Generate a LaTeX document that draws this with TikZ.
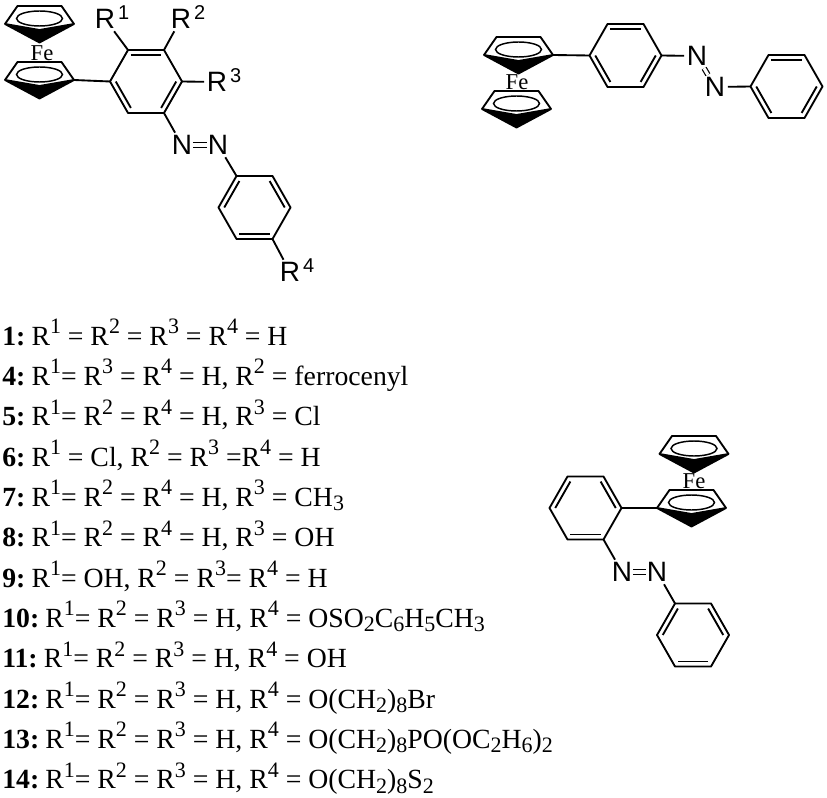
\documentclass[tikz,border=0pt]{standalone}
\usepackage{fontspec}
\setmainfont{Liberation Serif}
\newfontfamily\atomfont{Liberation Sans}
\usetikzlibrary{calc}
\newcommand{\rup}[1]{\raisebox{8.5pt}{\fontsize{16.5}{16.5}\selectfont #1}}
\newcommand{\rdn}[1]{\raisebox{-3.5pt}{\fontsize{16.5}{16.5}\selectfont #1}}
\newcommand{\rownum}[1]{\textbf{#1:}\hspace{4.6pt}}
\newcommand{\innerbond}[3]{\draw [bond] ($(#1-#2)!0.16!(#1-c)$) -- ($(#1-#3)!0.16!(#1-c)$);}
\tikzstyle{bond} = [draw, line width=1.4pt, line join=round]
\tikzstyle{atom} = [font=\atomfont\fontsize{21}{21}\selectfont, inner sep=0pt, outer sep=2pt]
\tikzstyle{atomsup} = [font=\atomfont\fontsize{15}{15}\selectfont, inner sep=0pt, anchor=base west, xshift=0pt, yshift=6.5pt]
\tikzstyle{iron} = [font=\fontsize{17}{17}\selectfont, inner sep=0pt]
\tikzstyle{row} = [font=\fontsize{20.8}{20.8}\selectfont, inner sep=0pt, anchor=base west]
\tikzstyle{azo} = [draw, line width=1.1pt, double, double distance=2.6pt, shorten <=-1.5pt, shorten >=-1.5pt]
\tikzset{
  cpring/.pic={
    \coordinate (-left) at (-34.5,0);
    \coordinate (-right) at (34.5,0);
    \draw [bond] (-left) -- (-22,-18) -- (22,-18) -- (-right);
    \draw [bond, fill=black] (-left) -- (0,6) -- (-right) -- (0,18.5) -- cycle;
    \draw [line width=1.1pt] (0,-5.5) ellipse [x radius=23, y radius=7.5];
  },
  hexring/.pic={
    \coordinate (-c) at (0,0);
    \coordinate (-1) at (-18,-31.5);
    \coordinate (-2) at (18,-31.5);
    \coordinate (-3) at (36,0);
    \coordinate (-4) at (18,31.5);
    \coordinate (-5) at (-18,31.5);
    \coordinate (-6) at (-36,0);
    \draw [bond] (-1) -- (-2) -- (-3) -- (-4) -- (-5) -- (-6) -- cycle;
  }
}
\begin{document}
\begin{tikzpicture}[x=0.75pt, y=-0.75pt]
  \useasboundingbox (0,0) rectangle (827,798);
  \pic (cpa) at (39.5,24) {cpring};
  \pic (cpb) at (39.5,80) {cpring};
  \node [iron] (fea) at (42,53) {Fe};
  \pic (ra) at (146,81.5) {hexring};
  \pic (rb) at (254.5,207.5) {hexring};
  \innerbond{ra}{1}{2}
  \innerbond{ra}{3}{4}
  \innerbond{ra}{5}{6}
  \innerbond{rb}{1}{6}
  \innerbond{rb}{2}{3}
  \innerbond{rb}{4}{5}
  \node [atom] (r1) at (105,19) {R};
  \node [atomsup] (r1sup) at (r1.base east) {1};
  \node [atom] (r2) at (181,19) {R};
  \node [atomsup] (r2sup) at (r2.base east) {2};
  \node [atom] (r3) at (217,82) {R};
  \node [atomsup] (r3sup) at (r3.base east) {3};
  \node [atom] (r4) at (290,272) {R};
  \node [atomsup] (r4sup) at (r4.base east) {4};
  \node [atom] (na) at (182,145) {N};
  \node [atom] (nb) at (218,145) {N};
  \path [bond] (cpb-right) -- (ra-6);
  \path [bond] (ra-1) -- (r1);
  \path [bond] (ra-2) -- (r2);
  \path [bond] (ra-3) -- (r3);
  \path [bond] (ra-4) -- (na);
  \path [azo] (na) -- (nb);
  \path [bond] (nb) -- (rb-1);
  \path [bond] (rb-4) -- (r4);

  \pic (cpc) at (518.5,55) {cpring};
  \pic (cpd) at (516.5,109) {cpring};
  \node [iron] (feb) at (517,82) {Fe};
  \pic (rc) at (625.5,55.5) {hexring};
  \pic (rd) at (786.5,86.5) {hexring};
  \innerbond{rc}{1}{2}
  \innerbond{rc}{3}{4}
  \innerbond{rc}{5}{6}
  \innerbond{rd}{1}{2}
  \innerbond{rd}{3}{4}
  \innerbond{rd}{5}{6}
  \node [atom] (nc) at (697,56) {N};
  \node [atom] (nd) at (715,87) {N};
  \path [bond] (cpc-right) -- (rc-6);
  \path [bond] (rc-3) -- (nc);
  \path [draw, line width=0.9pt, double, double distance=2.4pt] (nc) -- (nd);
  \path [bond] (nd) -- (rd-6);

  \pic (cpe) at (694,454) {cpring};
  \pic (cpf) at (691.5,508) {cpring};
  \node [iron] (fec) at (694,481) {Fe};
  \pic (re) at (585.5,508) {hexring};
  \pic (rf) at (693,635) {hexring};
  \innerbond{re}{2}{3}
  \innerbond{re}{1}{6}
  \innerbond{re}{4}{5}
  \innerbond{rf}{1}{6}
  \innerbond{rf}{2}{3}
  \innerbond{rf}{4}{5}
  \node [atom] (ne) at (622,572) {N};
  \node [atom] (nf) at (657,572) {N};
  \path [bond] (cpf-left) -- (re-3);
  \path [bond] (re-4) -- (ne);
  \path [azo] (ne) -- (nf);
  \path [bond] (nf) -- (rf-1);

  \node [row] (row1) at (2,345) {\rownum{1}R\rup{1} = R\rup{2} = R\rup{3} = R\rup{4} = H};
  \node [row] (row4) at (2,385.3) {\rownum{4}R\rup{1}= R\rup{3} = R\rup{4} = H, R\rup{2} = ferrocenyl};
  \node [row] (row5) at (2,425.6) {\rownum{5}R\rup{1}= R\rup{2} = R\rup{4} = H, R\rup{3} = Cl};
  \node [row] (row6) at (2,466) {\rownum{6}R\rup{1} = Cl, R\rup{2} = R\rup{3} =R\rup{4} = H};
  \node [row] (row7) at (2,506.3) {\rownum{7}R\rup{1}= R\rup{2} = R\rup{4} = H, R\rup{3} = CH\rdn{3}};
  \node [row] (row8) at (2,546.6) {\rownum{8}R\rup{1}= R\rup{2} = R\rup{4} = H, R\rup{3} = OH};
  \node [row] (row9) at (2,587) {\rownum{9}R\rup{1}= OH, R\rup{2} = R\rup{3}= R\rup{4} = H};
  \node [row] (row10) at (2,627.3) {\rownum{10}R\rup{1}= R\rup{2} = R\rup{3} = H, R\rup{4} = OSO\rdn{2}C\rdn{6}H\rdn{5}CH\rdn{3}};
  \node [row] (row11) at (2,667.6) {\rownum{11}R\rup{1}= R\rup{2} = R\rup{3} = H, R\rup{4} = OH};
  \node [row] (row12) at (2,708) {\rownum{12}R\rup{1}= R\rup{2} = R\rup{3} = H, R\rup{4} = O(CH\rdn{2})\rdn{8}Br};
  \node [row] (row13) at (2,748.3) {\rownum{13}R\rup{1}= R\rup{2} = R\rup{3} = H, R\rup{4} = O(CH\rdn{2})\rdn{8}PO(OC\rdn{2}H\rdn{6})\rdn{2}};
  \node [row] (row14) at (2,788.6) {\rownum{14}R\rup{1}= R\rup{2} = R\rup{3} = H, R\rup{4} = O(CH\rdn{2})\rdn{8}S\rdn{2}};
\end{tikzpicture}
\end{document}
